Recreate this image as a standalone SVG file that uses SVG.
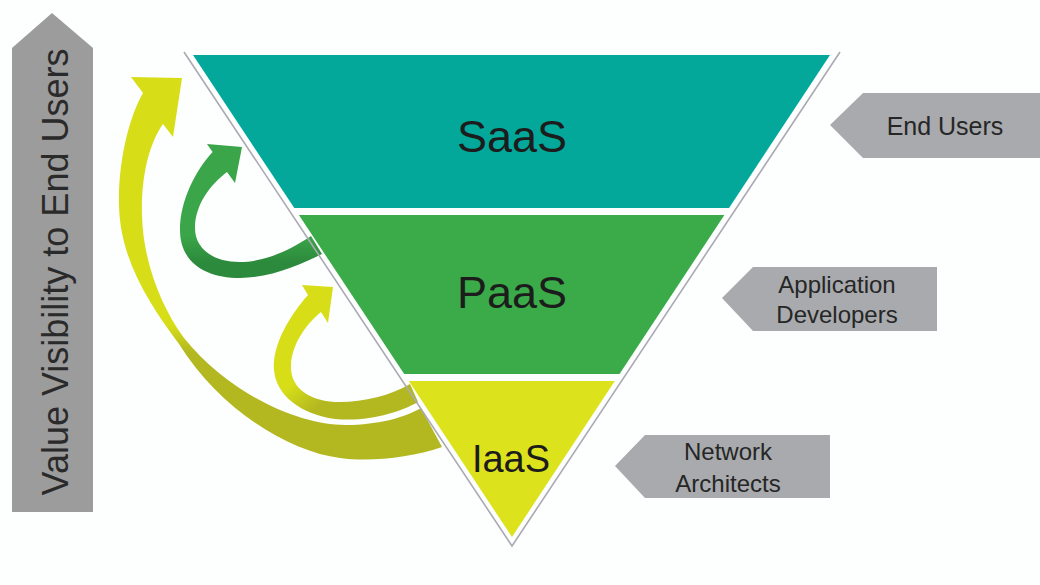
<svg xmlns="http://www.w3.org/2000/svg" width="1040" height="585" viewBox="0 0 1040 585">
<style>
text{font-family:"Liberation Sans",Arial,sans-serif;}
.band{font-size:45px;fill:#1c1c1c;text-anchor:middle;}
.lbl{font-size:24px;fill:#262626;text-anchor:middle;}
.tag{fill:#a8aaad;}
.edge{fill:none;stroke:#aca9b2;stroke-width:1.6;}
</style>
<defs>
<linearGradient id="gA1" gradientUnits="userSpaceOnUse" x1="0" y1="325" x2="0" y2="352">
<stop offset="0" stop-color="#d7de18"/><stop offset="1" stop-color="#b3b820"/>
</linearGradient>
<linearGradient id="gA3" gradientUnits="userSpaceOnUse" x1="292" y1="384" x2="314" y2="410">
<stop offset="0" stop-color="#d7de18"/><stop offset="1" stop-color="#b3b820"/>
</linearGradient>
<linearGradient id="gA2" gradientUnits="userSpaceOnUse" x1="0" y1="236" x2="0" y2="262">
<stop offset="0" stop-color="#3ba549"/><stop offset="1" stop-color="#2c8a3c"/>
</linearGradient>
</defs>
<rect width="1040" height="585" fill="#fdfefe"/>

<g id="value-axis">
<polygon points="12,48 52,13 93,48 93,512 12,512" fill="#9c9c9c"/>
<text transform="translate(68,272) rotate(-90)" font-size="36" fill="#2a2a2a" text-anchor="middle">Value Visibility to End Users</text>
</g>

<g id="connectors">
<path id="arrow-iaas-saas" fill="url(#gA1)" d="M143,93 L131,77 L182,78 L173,137 L163,124 C148,145 141,180 142,215 C143,260 160,305 184,338 C230,395 300,425 345,425 C380,425 405,417 421,408 L442,447 C410,458 370,462 340,458 C290,452 220,410 179,344 C150,305 120,260 119,205 C118,160 130,115 143,93 Z"/>
<path id="arrow-paas-saas" fill="url(#gA2)" d="M212.6,152 L207,144 L242,147 L235,183 L227,172 C210,185 195,205 195,228 C195,248 212,262 240,262 C265,262 290,250 311,236 L322,254 C300,265 270,278 240,278 C205,278 180,262 180,230 C180,200 196,170 212.6,152 Z"/>
<path id="arrow-iaas-paas" fill="url(#gA3)" d="M308,295 L302,285 L333,287 L328,323 L321,312 C305,325 292,345 291,365 C290,385 305,400 335,402 C360,403 390,396 410,384 L418,402 C400,412 370,422 335,419 C300,414 276,395 274,370 C272,345 290,315 308,295 Z"/>
</g>

<g id="pyramid-outline">
<polyline class="edge" points="184,52 512,546 840,52"/>
</g>

<g id="saas">
<polygon points="193,55 830,55 729,208 294.3,208" fill="#03a89b"/>
<text class="band" x="512" y="152">SaaS</text>
</g>
<g id="paas">
<polygon points="298.9,215 724.4,215 619.5,374 404.2,374" fill="#3aab48"/>
<text class="band" x="512" y="308">PaaS</text>
</g>
<g id="iaas">
<polygon points="408.8,381 614.8,381 512,537" fill="#dce21b"/>
<text class="band" x="511" y="472" font-size="38" style="font-size:38px">IaaS</text>
</g>

<g id="end-users">
<polygon class="tag" points="830,125 863,93 1040,93 1040,158 863,158"/>
<text class="lbl" x="945" y="135" style="font-size:25px">End Users</text>
</g>
<g id="application-developers">
<polygon class="tag" points="722,298 753,267 937,267 937,331 753,331"/>
<text class="lbl" x="837" y="293">Application</text>
<text class="lbl" x="837" y="323">Developers</text>
</g>
<g id="network-architects">
<polygon class="tag" points="615,466 645,435 830,435 830,498 645,498"/>
<text class="lbl" x="728" y="460">Network</text>
<text class="lbl" x="728" y="492">Architects</text>
</g>
</svg>
